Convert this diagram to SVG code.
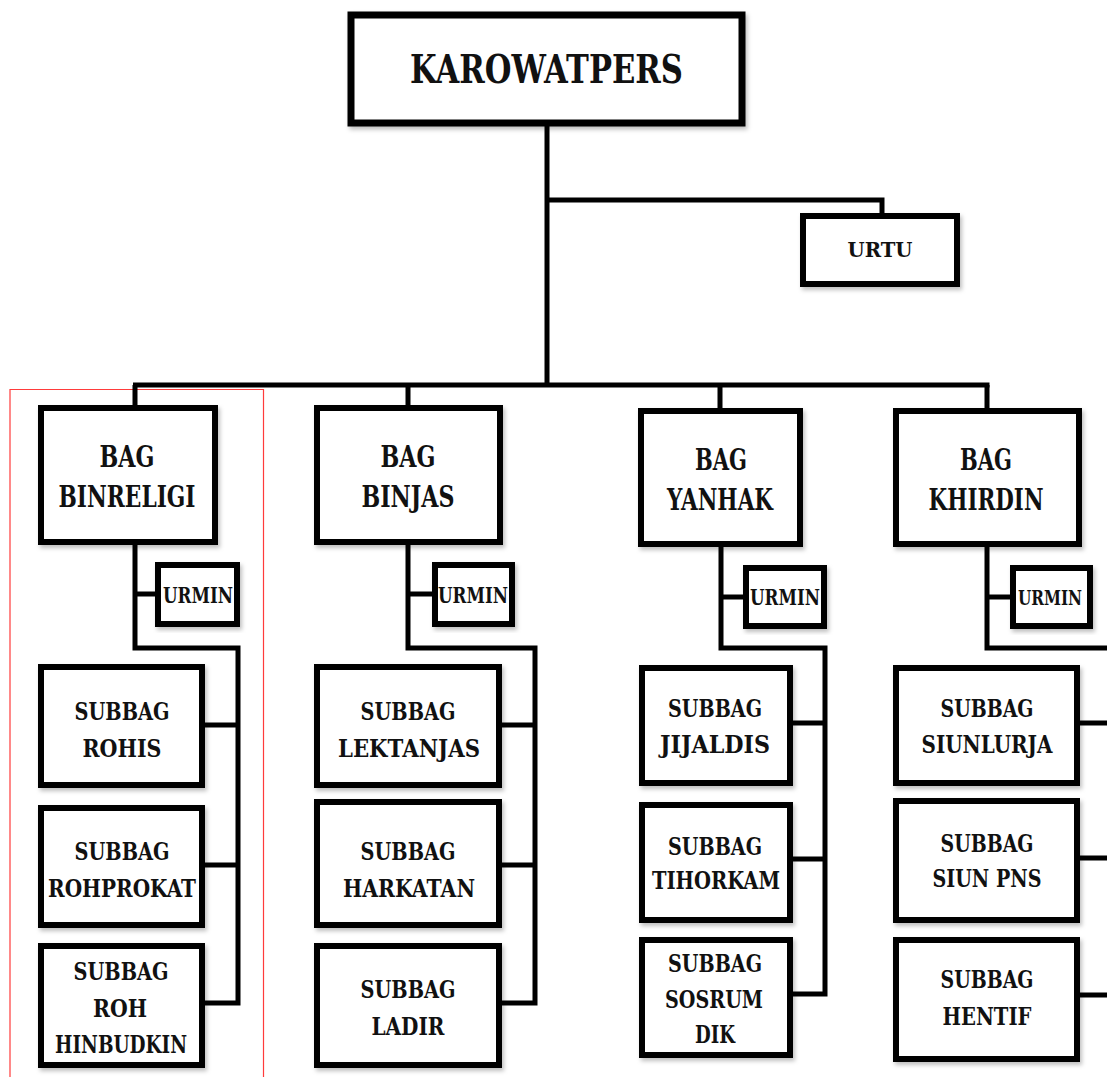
<svg xmlns="http://www.w3.org/2000/svg" width="1107" height="1077" viewBox="0 0 1107 1077">
<style>
.box{fill:#fff;stroke:#000;stroke-width:6;filter:url(#sh)}
.conn{fill:none;stroke:#000;stroke-width:5}
text{font-family:"DejaVu Serif","Liberation Serif",serif;font-weight:bold;text-anchor:middle;fill:#111}
.t0{font-size:40px}.t1{font-size:30px}.t2{font-size:23px}.t3{font-size:25px}
</style>
<defs>
<filter id="sh" x="-10%" y="-10%" width="125%" height="125%">
<feDropShadow dx="2" dy="3" stdDeviation="2" flood-color="#000" flood-opacity="0.25"/>
</filter>
</defs>
<rect width="1107" height="1077" fill="#fff"/>
<path d="M10,1077 V389.5 H263.5 V1077" fill="none" stroke="#ff3b3b" stroke-width="1.2"/>
<g id="connectors">
<path class="conn" d="M547,126 V385"/>
<path class="conn" d="M547,200 H882 V214"/>
<path class="conn" d="M133,385 H989.5"/>
<path class="conn" d="M135,385 V406 M408,385 V406 M720,385 V409 M987,385 V409"/>
<path class="conn" d="M135,545 V648 H238 V1005.5 M135,594 H156 M204,725 H238 M204,865 H238 M204,1003 H238"/>
<path class="conn" d="M408,545 V648 H535 V1005.5 M408,594 H433 M501,725 H535 M501,865 H535 M501,1003 H535"/>
<path class="conn" d="M721,547 V648 H825 V996.5 M721,597 H744 M792,723 H825 M792,859 H825 M792,994 H825"/>
<path class="conn" d="M987,547 V648 H1107 M987,597 H1011 M1079,723 H1107 M1079,858 H1107 M1079,995 H1107"/>
</g>
<g id="karowatpers"><rect class="box" x="351" y="15" width="391" height="108" style="stroke-width:7"/><text class="t0" x="546.5" y="83" textLength="273" lengthAdjust="spacingAndGlyphs">KAROWATPERS</text></g>
<g id="urtu"><rect class="box" x="803" y="216" width="154" height="68"/><text class="t2" x="880" y="257" textLength="65" lengthAdjust="spacingAndGlyphs" style="font-size:21px">URTU</text></g>

<g id="bag-binreligi"><rect class="box" x="41" y="408" width="174" height="134"/><text class="t1" x="127" y="467" textLength="55" lengthAdjust="spacingAndGlyphs">BAG</text><text class="t1" x="127" y="507" textLength="137" lengthAdjust="spacingAndGlyphs">BINRELIGI</text></g>
<g id="urmin-1"><rect class="box" x="158" y="565" width="79" height="59"/><text class="t2" x="198" y="603" textLength="70" lengthAdjust="spacingAndGlyphs">URMIN</text></g>
<g id="subbag-rohis"><rect class="box" x="41" y="667" width="161" height="118"/><text class="t3" x="122" y="720" textLength="95" lengthAdjust="spacingAndGlyphs">SUBBAG</text><text class="t3" x="122" y="757" textLength="79" lengthAdjust="spacingAndGlyphs">ROHIS</text></g>
<g id="subbag-rohprokat"><rect class="box" x="41" y="808" width="161" height="117"/><text class="t3" x="122" y="860" textLength="95" lengthAdjust="spacingAndGlyphs">SUBBAG</text><text class="t3" x="122" y="897" textLength="148" lengthAdjust="spacingAndGlyphs">ROHPROKAT</text></g>
<g id="subbag-roh-hinbudkin"><rect class="box" x="41" y="946" width="161" height="119"/><text class="t3" x="121" y="980" textLength="95" lengthAdjust="spacingAndGlyphs">SUBBAG</text><text class="t3" x="120" y="1017" textLength="54" lengthAdjust="spacingAndGlyphs">ROH</text><text class="t3" x="121" y="1053" textLength="132" lengthAdjust="spacingAndGlyphs">HINBUDKIN</text></g>

<g id="bag-binjas"><rect class="box" x="317" y="408" width="183" height="134"/><text class="t1" x="408" y="467" textLength="55" lengthAdjust="spacingAndGlyphs">BAG</text><text class="t1" x="408" y="507" textLength="93" lengthAdjust="spacingAndGlyphs">BINJAS</text></g>
<g id="urmin-2"><rect class="box" x="435" y="565" width="77" height="59"/><text class="t2" x="473" y="603" textLength="70" lengthAdjust="spacingAndGlyphs">URMIN</text></g>
<g id="subbag-lektanjas"><rect class="box" x="317" y="667" width="182" height="118"/><text class="t3" x="408" y="720" textLength="95" lengthAdjust="spacingAndGlyphs">SUBBAG</text><text class="t3" x="409" y="757" textLength="142" lengthAdjust="spacingAndGlyphs">LEKTANJAS</text></g>
<g id="subbag-harkatan"><rect class="box" x="317" y="802" width="182" height="123"/><text class="t3" x="408" y="860" textLength="95" lengthAdjust="spacingAndGlyphs">SUBBAG</text><text class="t3" x="409" y="897" textLength="132" lengthAdjust="spacingAndGlyphs">HARKATAN</text></g>
<g id="subbag-ladir"><rect class="box" x="317" y="946" width="182" height="119"/><text class="t3" x="408" y="998" textLength="95" lengthAdjust="spacingAndGlyphs">SUBBAG</text><text class="t3" x="408" y="1035" textLength="73" lengthAdjust="spacingAndGlyphs">LADIR</text></g>

<g id="bag-yanhak"><rect class="box" x="641" y="411" width="159" height="133"/><text class="t1" x="721" y="470" textLength="52" lengthAdjust="spacingAndGlyphs">BAG</text><text class="t1" x="720" y="510" textLength="106" lengthAdjust="spacingAndGlyphs">YANHAK</text></g>
<g id="urmin-3"><rect class="box" x="746" y="568" width="78" height="58"/><text class="t2" x="785" y="605" textLength="70" lengthAdjust="spacingAndGlyphs">URMIN</text></g>
<g id="subbag-jijaldis"><rect class="box" x="642" y="668" width="148" height="115"/><text class="t3" x="715" y="717" textLength="94" lengthAdjust="spacingAndGlyphs">SUBBAG</text><text class="t3" x="715" y="753" textLength="110" lengthAdjust="spacingAndGlyphs">JIJALDIS</text></g>
<g id="subbag-tihorkam"><rect class="box" x="642" y="805" width="148" height="115"/><text class="t3" x="715" y="855" textLength="94" lengthAdjust="spacingAndGlyphs">SUBBAG</text><text class="t3" x="716" y="889" textLength="128" lengthAdjust="spacingAndGlyphs">TIHORKAM</text></g>
<g id="subbag-sosrum-dik"><rect class="box" x="642" y="940" width="148" height="115"/><text class="t3" x="715" y="972" textLength="94" lengthAdjust="spacingAndGlyphs">SUBBAG</text><text class="t3" x="714" y="1008" textLength="98" lengthAdjust="spacingAndGlyphs">SOSRUM</text><text class="t3" x="715" y="1043" textLength="40" lengthAdjust="spacingAndGlyphs">DIK</text></g>

<g id="bag-khirdin"><rect class="box" x="896" y="411" width="183" height="133"/><text class="t1" x="986" y="470" textLength="52" lengthAdjust="spacingAndGlyphs">BAG</text><text class="t1" x="986" y="510" textLength="115" lengthAdjust="spacingAndGlyphs">KHIRDIN</text></g>
<g id="urmin-4"><rect class="box" x="1013" y="568" width="77" height="58"/><text class="t2" x="1050" y="605" textLength="64" lengthAdjust="spacingAndGlyphs" style="font-size:20px">URMIN</text></g>
<g id="subbag-siunlurja"><rect class="box" x="896" y="668" width="181" height="115"/><text class="t3" x="987" y="717" textLength="93" lengthAdjust="spacingAndGlyphs">SUBBAG</text><text class="t3" x="987" y="753" textLength="131" lengthAdjust="spacingAndGlyphs">SIUNLURJA</text></g>
<g id="subbag-siun-pns"><rect class="box" x="896" y="801" width="181" height="119"/><text class="t3" x="987" y="852" textLength="93" lengthAdjust="spacingAndGlyphs">SUBBAG</text><text class="t3" x="987" y="887" textLength="109" lengthAdjust="spacingAndGlyphs">SIUN PNS</text></g>
<g id="subbag-hentif"><rect class="box" x="896" y="940" width="181" height="119"/><text class="t3" x="987" y="988" textLength="93" lengthAdjust="spacingAndGlyphs">SUBBAG</text><text class="t3" x="987" y="1025" textLength="89" lengthAdjust="spacingAndGlyphs">HENTIF</text></g>
</svg>
